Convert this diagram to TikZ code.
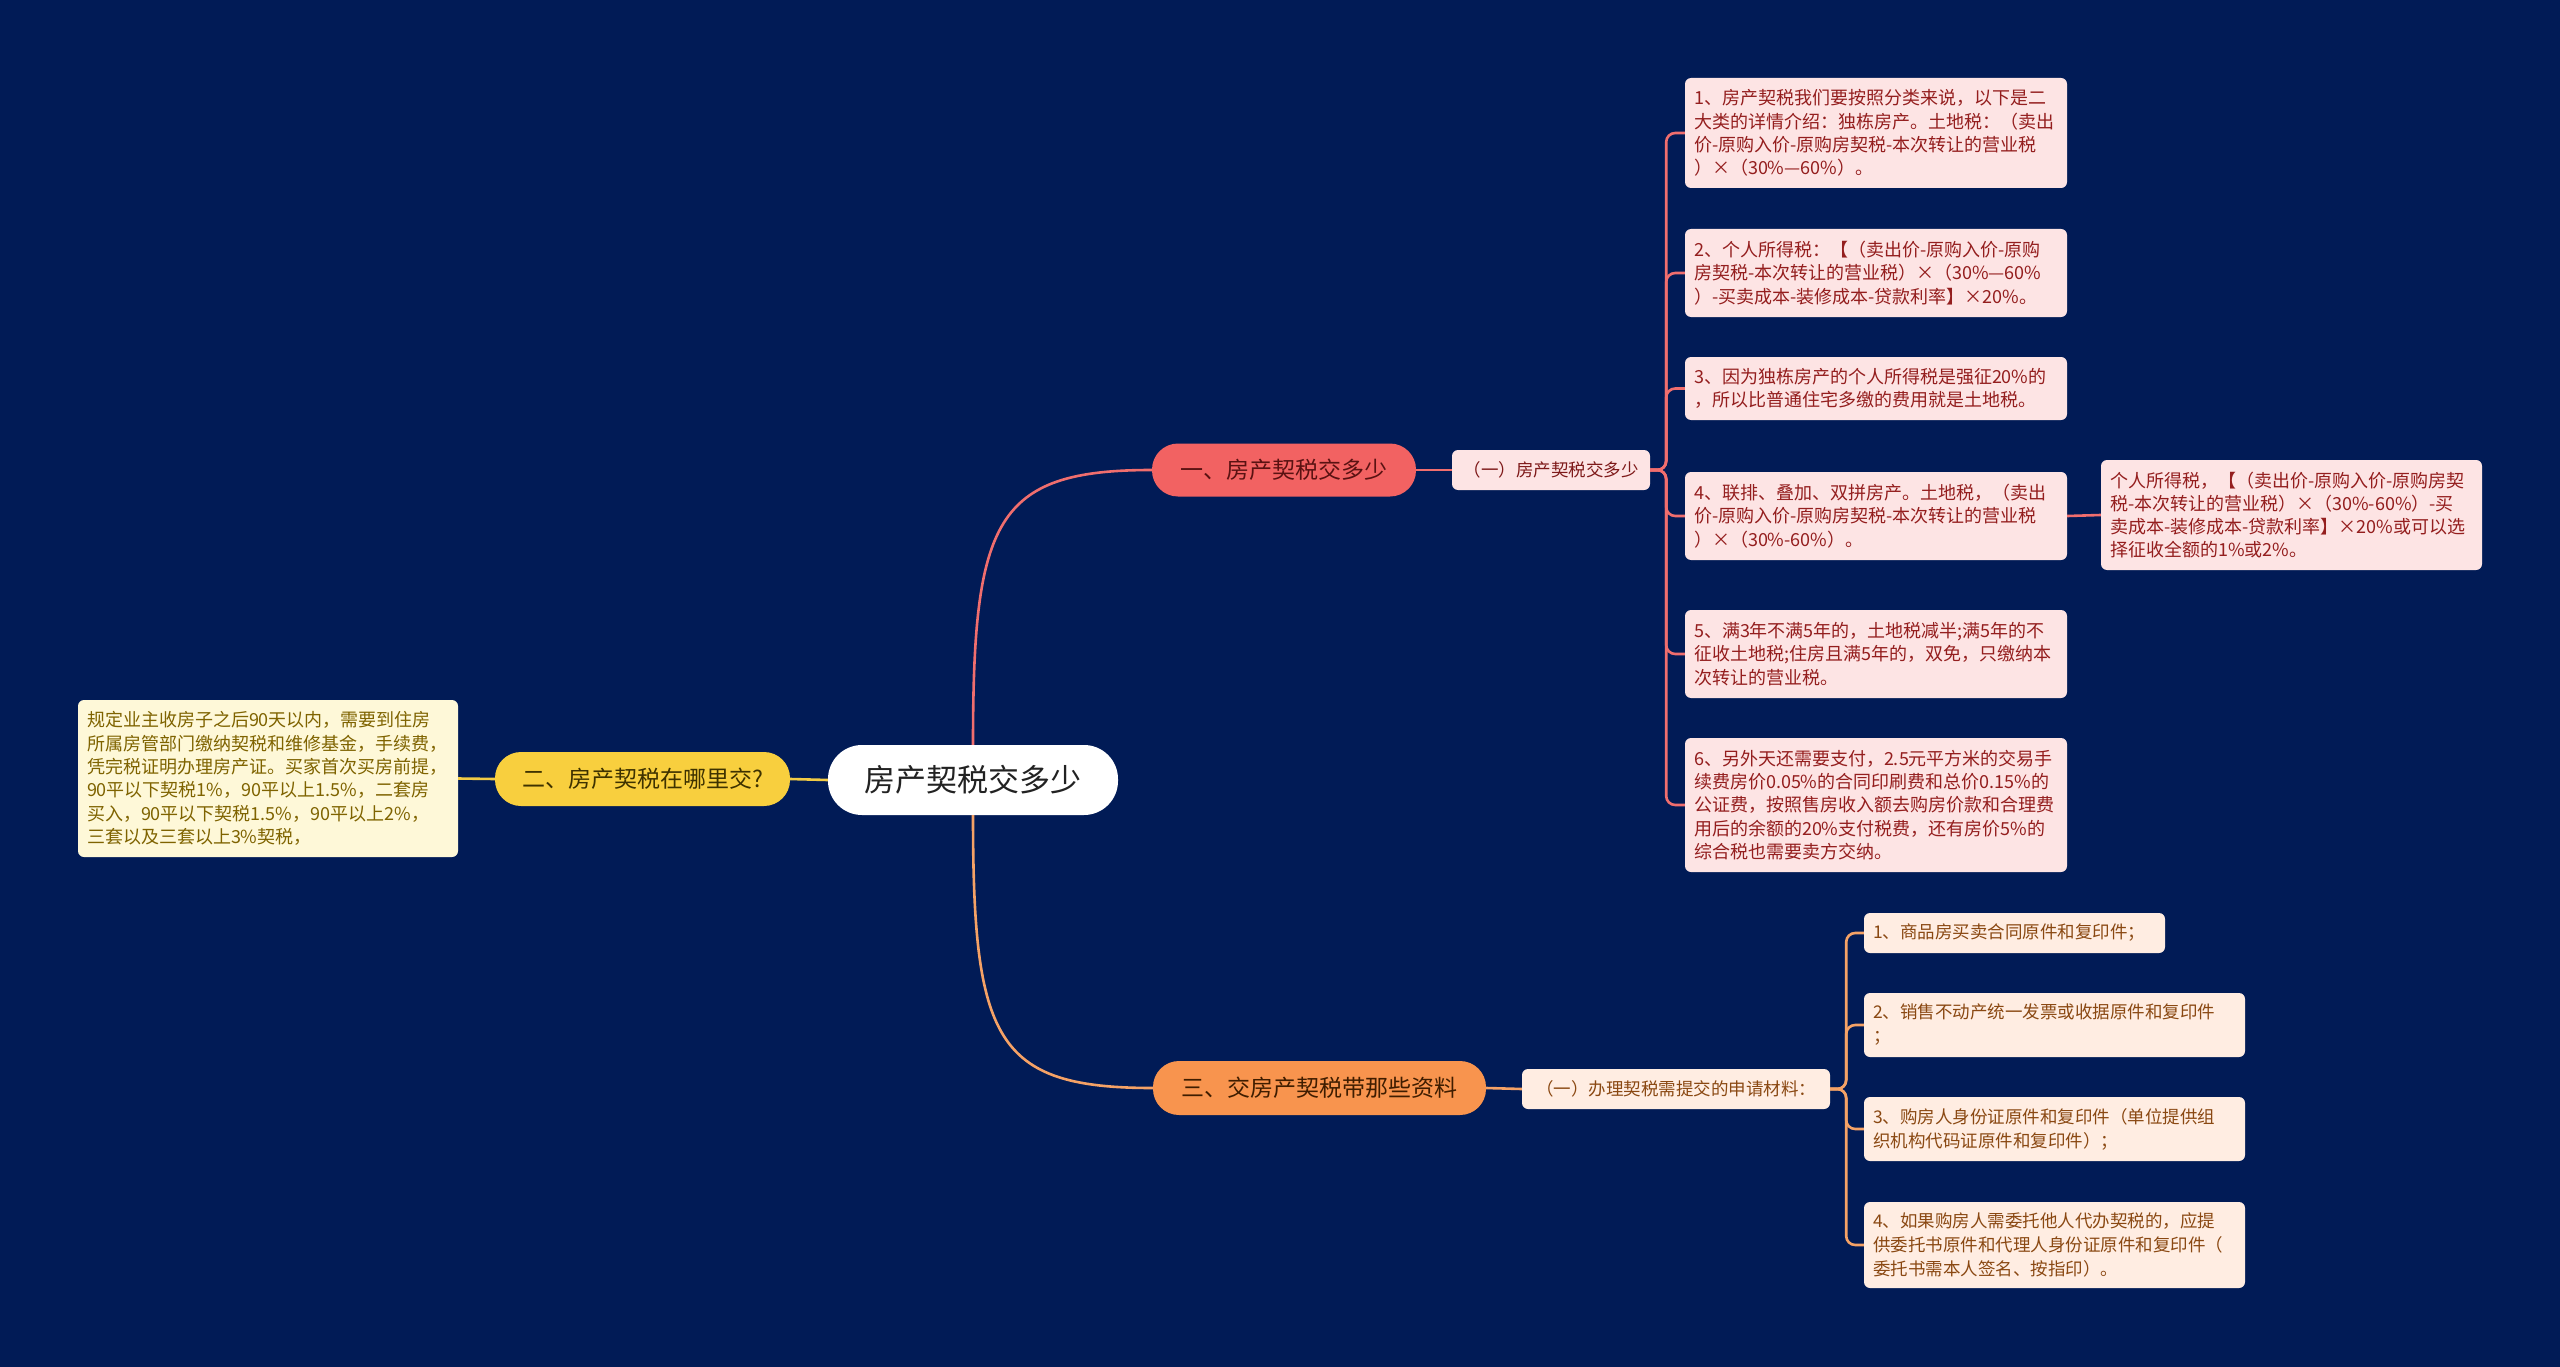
\documentclass[tikz,border=0pt]{standalone}
\usepackage{fontspec}
\setmainfont{Noto Sans CJK SC}
\definecolor{bgc}{HTML}{011B56}
\definecolor{rootfill}{HTML}{FFFFFF}
\definecolor{roottext}{HTML}{222222}
\definecolor{redfill}{HTML}{F26262}
\definecolor{redtext}{HTML}{5A1212}
\definecolor{rededge}{HTML}{F06E6E}
\definecolor{pinkfill}{HTML}{FDE4E4}
\definecolor{pinktext}{HTML}{941E1E}
\definecolor{yelfill}{HTML}{F8CF3E}
\definecolor{yeltext}{HTML}{3E3200}
\definecolor{yeledge}{HTML}{F2CB45}
\definecolor{creamfill}{HTML}{FEF8D8}
\definecolor{creamtext}{HTML}{7F6300}
\definecolor{orafill}{HTML}{F8944E}
\definecolor{oratext}{HTML}{3F1D00}
\definecolor{oraedge}{HTML}{F5A266}
\definecolor{peachfill}{HTML}{FFEDE2}
\definecolor{peachtext}{HTML}{8A4812}
\tikzset{
  pill/.style={rounded corners=26pt, inner sep=0pt, align=center},
  rootbox/.style={fill=rootfill, text=roottext, rounded corners=34pt, inner sep=0pt,
    minimum width=290pt, minimum height=70pt, font=\fontsize{31}{36}\selectfont},
  redpill/.style={pill, fill=redfill, text=redtext, font=\fontsize{23}{28}\selectfont},
  yelpill/.style={pill, fill=yelfill, text=yeltext, font=\fontsize{23}{28}\selectfont},
  orapill/.style={pill, fill=orafill, text=oratext, font=\fontsize{23}{28}\selectfont},
  subred/.style={fill=pinkfill, text=pinktext!85!black, rounded corners=6pt, inner sep=0pt,
    font=\fontsize{17.5}{22}\selectfont},
  suborange/.style={fill=peachfill, text=peachtext, rounded corners=6pt, inner sep=0pt,
    font=\fontsize{17.5}{22}\selectfont},
  leafred/.style={fill=pinkfill, text=pinktext, rounded corners=6pt, align=left,
    inner xsep=9pt, inner ysep=3pt, font=\fontsize{18}{23.3}\selectfont},
  leafyel/.style={fill=creamfill, text=creamtext, rounded corners=6pt, align=left,
    inner xsep=9pt, inner ysep=3pt, font=\fontsize{18}{23.3}\selectfont},
  leafora/.style={fill=peachfill, text=peachtext, rounded corners=6pt, align=left,
    inner xsep=9pt, inner ysep=3pt, font=\fontsize{17.5}{24}\selectfont},
  ered/.style={draw=rededge, line width=2.6pt},
  eyel/.style={draw=yeledge, line width=2.6pt},
  eora/.style={draw=oraedge, line width=2.6pt},
}
\begin{document}
\begin{tikzpicture}[x=1pt, y=-1pt]
\fill[bgc] (0,0) rectangle (2560,1367);
\useasboundingbox (0,0) rectangle (2560,1367);

% root and branches
\node[rootbox] (root) at (973,780) {房产契税交多少};
\node[redpill, minimum width=264pt, minimum height=53pt] (b1) at (1284,470) {一、房产契税交多少};
\node[yelpill, minimum width=295pt, minimum height=54pt] (b2) at (642.5,779) {二、房产契税在哪里交?};
\node[orapill, minimum width=333pt, minimum height=54pt] (b3) at (1319.5,1088) {三、交房产契税带那些资料};

% sub topics
\node[subred, minimum width=198pt, minimum height=40pt] (s1) at (1551,470) {（一）房产契税交多少};
\node[suborange, minimum width=308pt, minimum height=40pt] (s3) at (1676,1089) {（一）办理契税需提交的申请材料：};

% leaves of branch 1
\node[leafred, text width=364pt, minimum height=110pt] (L1) at (1876,133) {1、房产契税我们要按照分类来说，以下是二\\大类的详情介绍：独栋房产。土地税：（卖出\\价-原购入价-原购房契税-本次转让的营业税\\）×（30\%—60\%）。};
\node[leafred, text width=364pt, minimum height=88pt] (L2) at (1876,273) {2、个人所得税：【（卖出价-原购入价-原购\\房契税-本次转让的营业税）×（30\%—60\%\\）-买卖成本-装修成本-贷款利率】×20\%。};
\node[leafred, text width=364pt, minimum height=63pt] (L3) at (1876,388.5) {3、因为独栋房产的个人所得税是强征20\%的\\，所以比普通住宅多缴的费用就是土地税。};
\node[leafred, text width=364pt, minimum height=88pt] (L4) at (1876,516) {4、联排、叠加、双拼房产。土地税，（卖出\\价-原购入价-原购房契税-本次转让的营业税\\）×（30\%-60\%）。};
\node[leafred, text width=364pt, minimum height=88pt] (L5) at (1876,654) {5、满3年不满5年的，土地税减半;满5年的不\\征收土地税;住房且满5年的，双免，只缴纳本\\次转让的营业税。};
\node[leafred, text width=364pt, minimum height=134pt] (L6) at (1876,805) {6、另外天还需要支付，2.5元平方米的交易手\\续费房价0.05\%的合同印刷费和总价0.15\%的\\公证费，按照售房收入额去购房价款和合理费\\用后的余额的20\%支付税费，还有房价5\%的\\综合税也需要卖方交纳。};
\node[leafred, text width=363pt, minimum height=110pt] (L4c) at (2291.5,515) {个人所得税，【（卖出价-原购入价-原购房契\\税-本次转让的营业税）×（30\%-60\%）-买\\卖成本-装修成本-贷款利率】×20\%或可以选\\择征收全额的1\%或2\%。};

% leaf of branch 2
\node[leafyel, text width=362pt, minimum height=157pt] (Y1) at (268,778.5) {规定业主收房子之后90天以内，需要到住房\\所属房管部门缴纳契税和维修基金，手续费，\\凭完税证明办理房产证。买家首次买房前提，\\90平以下契税1\%，90平以上1.5\%，二套房\\买入，90平以下契税1.5\%，90平以上2\%，\\三套以及三套以上3\%契税，};

% leaves of branch 3
\node[leafora, text width=283pt, minimum height=40pt] (M1) at (2014.5,933) {1、商品房买卖合同原件和复印件；};
\node[leafora, text width=363pt, minimum height=64pt] (M2) at (2054.5,1025) {2、销售不动产统一发票或收据原件和复印件\\；};
\node[leafora, text width=363pt, minimum height=64pt] (M3) at (2054.5,1129) {3、购房人身份证原件和复印件（单位提供组\\织机构代码证原件和复印件）；};
\node[leafora, text width=363pt, minimum height=86pt] (M4) at (2054.5,1245) {4、如果购房人需委托他人代办契税的，应提\\供委托书原件和代理人身份证原件和复印件（\\委托书需本人签名、按指印）。};

% connectors
\draw[ered] (root.north) .. controls (973,520) and (995,470) .. (b1.west);
\draw[eora] (root.south) .. controls (973,1040) and (995,1088) .. (b3.west);
\draw[eyel] (root.west) -- (b2.east);
\draw[eyel] (b2.west) -- (Y1.east);
\draw[ered] (b1.east) -- (s1.west);
\draw[eora] (b3.east) -- (s3.west);
\foreach \n in {L1,L2,L3,L4,L5,L6}
  \draw[ered, rounded corners=9pt] (s1.east) -- ++(16,0) |- (\n.west);
\draw[ered] (L4.east) -- (L4c.west);
\foreach \n in {M1,M2,M3,M4}
  \draw[eora, rounded corners=9pt] (s3.east) -- ++(16,0) |- (\n.west);
\end{tikzpicture}
\end{document}
